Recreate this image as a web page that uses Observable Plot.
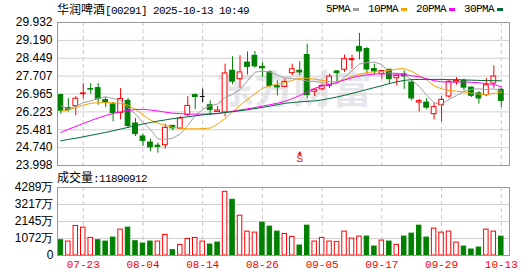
<!DOCTYPE html>
<html><head><meta charset="utf-8">
<script src="https://cdn.jsdelivr.net/npm/d3@7"></script>
<script src="https://cdn.jsdelivr.net/npm/@observablehq/plot@0.6"></script>
<style>
body{margin:0;background:#fff;}
#wrap{position:relative;width:530px;height:276px;overflow:hidden;background:#fff;}
#wrap svg{position:absolute;left:0;}
.cjk{font-family:"Noto Sans CJK SC",sans-serif;font-size:12px;}
.asc{font-family:"Liberation Mono",monospace;font-size:11px;letter-spacing:-0.6px;}
.lbl{position:absolute;white-space:nowrap;color:#000;line-height:14px;z-index:2;}
#legend{display:flex;align-items:center;}
.sw{display:inline-block;width:6px;height:3px;margin:0 9px 0 3px;}
</style></head>
<body><div id="wrap"></div>
<script>
// ---------- data ----------
const stockName = "华润啤酒";
const stockCode = "[00291]";
const stamp = "2025-10-13 10:49";
const dates = ["07-18","07-21","07-22","07-23","07-24","07-25","07-28","07-29","07-30","07-31",
  "08-01","08-04","08-05","08-06","08-07","08-08","08-11","08-12","08-13","08-14",
  "08-15","08-18","08-19","08-20","08-21","08-22","08-25","08-26","08-27","08-28",
  "08-29","09-01","09-02","09-03","09-04","09-05","09-08","09-09","09-10","09-11",
  "09-12","09-15","09-16","09-17","09-18","09-19","09-22","09-23","09-24","09-25",
  "09-26","09-29","09-30","10-02","10-03","10-06","10-08","10-09","10-10","10-13"];
const open  = [26.92,26.38,26.46,26.96,27.17,27.21,26.71,26.53,26.18,26.68,
  25.74,25.20,24.95,24.82,24.84,25.64,25.53,26.09,26.92,26.86,
  26.50,26.22,26.20,27.93,27.58,28.27,28.55,28.09,27.86,27.29,
  27.26,27.83,27.93,28.58,27.06,27.16,27.30,27.90,27.97,28.37,
  28.92,28.83,28.00,27.80,27.97,27.62,27.78,27.44,26.61,26.61,
  26.13,26.50,26.86,27.44,27.51,27.23,26.99,26.92,27.40,27.14];
const high  = [26.96,26.78,26.86,27.40,27.40,27.40,26.82,26.61,27.19,26.78,
  25.95,25.30,25.09,24.93,25.71,25.67,26.03,26.86,26.96,27.17,
  26.68,26.45,28.20,28.51,28.55,28.71,28.73,28.27,27.93,27.51,
  27.59,28.20,28.30,29.03,27.19,27.37,27.79,27.93,28.58,28.58,
  29.48,28.89,28.20,27.93,27.99,27.79,27.93,27.51,26.75,26.78,
  26.61,26.86,27.55,27.65,27.58,27.25,27.06,27.61,28.13,27.19];
const low   = [26.13,26.22,26.06,26.75,26.96,26.50,26.40,25.81,25.89,25.53,
  25.20,24.79,24.57,24.51,24.68,25.44,25.51,26.03,26.31,26.61,
  26.06,26.20,26.02,27.35,27.20,27.75,28.04,27.65,27.23,26.89,
  27.23,27.72,27.72,26.78,26.86,27.10,27.19,27.44,27.86,27.99,
  28.38,27.79,27.75,27.58,27.37,27.30,27.16,26.68,26.22,26.31,
  25.89,25.81,26.78,27.33,27.10,26.82,26.54,26.86,27.20,26.40];
const close = [26.27,26.30,26.77,26.99,27.15,26.75,26.61,26.17,26.76,25.64,
  25.30,25.02,24.75,24.77,25.56,25.54,25.95,26.47,26.84,26.86,
  26.30,26.28,27.82,27.48,27.86,28.09,28.11,28.03,27.30,27.24,
  27.47,27.99,27.86,26.92,27.14,27.30,27.69,27.83,28.41,28.41,
  28.73,27.98,27.90,27.92,27.58,27.72,27.70,26.78,26.67,26.40,
  26.42,26.72,27.47,27.51,27.23,26.89,26.78,27.33,27.69,26.68];
// volume in 万 (10k shares)
const volume = [962,879,1862,1757,1109,962,879,1130,1632,1757,
  900,753,879,879,1297,335,669,1046,1109,879,
  690,816,4017,3515,2511,1506,1444,2071,1820,1506,
  1360,1171,628,1883,879,1109,879,858,1506,1067,
  1193,1193,565,941,879,669,1193,1381,1883,1130,
  1695,1444,1506,816,565,377,502,1632,1506,1189.0912];
const ma5  = [26.47,26.35,26.45,26.60,26.68,26.78,26.85,26.78,26.70,26.39,
  26.13,25.78,25.49,25.10,25.08,25.13,25.31,25.66,26.07,26.33,
  26.48,26.55,26.82,26.95,27.15,27.51,27.87,27.91,27.88,27.75,
  27.63,27.61,27.57,27.50,27.48,27.44,27.38,27.38,27.67,27.93,
  28.21,28.27,28.29,28.19,27.83,27.83,27.78,27.54,27.28,26.92,
  26.60,26.53,26.74,26.90,27.07,27.16,27.18,27.15,27.18,27.07];
const ma10 = [26.25,26.30,26.40,26.50,26.58,26.60,26.61,26.60,26.57,26.50,
  26.33,26.10,25.88,25.75,25.66,25.58,25.55,25.52,25.52,25.53,
  25.55,25.71,25.95,26.22,26.50,26.74,26.98,27.20,27.30,27.38,
  27.43,27.53,27.62,27.62,27.58,27.53,27.48,27.47,27.56,27.70,
  27.78,27.86,27.88,27.90,27.95,28.00,28.02,27.90,27.73,27.55,
  27.30,27.18,27.11,27.08,27.05,27.00,26.96,26.93,27.00,27.02];
const ma20 = [25.37,25.50,25.62,25.74,25.86,25.97,26.07,26.16,26.23,26.28,
  26.32,26.33,26.30,26.26,26.21,26.17,26.15,26.13,26.13,26.13,
  26.14,26.15,26.20,26.25,26.30,26.35,26.40,26.46,26.52,26.58,
  26.66,26.77,26.90,27.05,27.20,27.30,27.37,27.44,27.55,27.64,
  27.71,27.76,27.79,27.80,27.80,27.79,27.78,27.72,27.68,27.60,
  27.52,27.47,27.46,27.47,27.47,27.45,27.43,27.40,27.36,27.26];
const ma30 = [25.02,25.08,25.13,25.19,25.25,25.31,25.37,25.44,25.51,25.58,
  25.65,25.72,25.78,25.84,25.89,25.94,25.98,26.02,26.06,26.10,
  26.13,26.16,26.20,26.23,26.27,26.31,26.36,26.41,26.46,26.52,
  26.58,26.61,26.64,26.66,26.68,26.72,26.78,26.84,26.91,26.99,
  27.07,27.15,27.23,27.31,27.40,27.47,27.53,27.56,27.57,27.57,
  27.57,27.57,27.56,27.56,27.55,27.54,27.53,27.52,27.52,27.51];
const maNames  = ["5PMA","10PMA","20PMA","30PMA"];
const maColors = ["#a0a0a0","#f5a300","#ff00ff","#006a36"];
const yTicks   = ["23.998","24.740","25.481","26.223","26.965","27.707","28.449","29.190","29.932"];
const volTicks = [0,1072,2145,3217,4289];
const volUnit  = "万";
const volTitle = "成交量";
const xTickDates = ["07-23","08-04","08-14","08-26","09-05","09-17","09-29","10-13"];
const signalDates = ["09-02"];
const signalText  = ["S"];
const watermark = ["东方财富"];

// ---------- build ----------
const UP = "#ff0000", DOWN = "#008000", FLAT = "#000000";
const rows = dates.map((d, i) => ({i, date: d, o: open[i], h: high[i], l: low[i], c: close[i], v: volume[i]}));
const candleColor = d => d.c > d.o ? UP : d.c < d.o ? DOWN : FLAT;
const volUp = d => d.i === 0 ? d.c > d.o : d.c >= close[d.i - 1];
const xTickIdx = xTickDates.map(d => dates.indexOf(d));
const yTickVals = yTicks.map(Number);
const xDomain = [-0.45, 60.1];
const mas = [ma5, ma10, ma20, ma30];
const signals = signalDates.map((d, k) => ({i: dates.indexOf(d), t: signalText[k]}));
const bodies = rows.filter(d => d.c !== d.o);
const dojis = rows.filter(d => d.c === d.o);
const hw = 0.32;

const main = Plot.plot({
  width: 530, height: 172,
  marginTop: 22, marginBottom: 7, marginLeft: 57, marginRight: 21,
  style: {fontFamily: "'Liberation Sans', sans-serif", fontSize: "12px", color: "#000", background: "transparent"},
  x: {type: "linear", domain: xDomain, axis: null, label: null},
  y: {domain: [yTickVals[0], yTickVals[yTickVals.length - 1]], axis: null, label: null},
  marks: [
    Plot.text(watermark, {frameAnchor: "middle", text: d => d, dx: 10, dy: -3, fontSize: 39, fontWeight: "bold", fill: "#e6e6ec", fontFamily: "'Noto Sans CJK SC'"}),
    Plot.ruleY(yTickVals.slice(1, -1), {stroke: "#d0d0d0"}),
    Plot.ruleX(xTickIdx, {stroke: "#c8c8c8", strokeDasharray: "4,3"}),
    Plot.axisY(yTickVals, {tickSize: 0, tickPadding: 5, tickFormat: d => d.toFixed(3), fontSize: 12, color: "#000", label: null}),
    Plot.ruleX(rows, {x: "i", y1: "l", y2: "h", stroke: candleColor}),
    Plot.rect(bodies, {x1: d => d.i - hw, x2: d => d.i + hw, y1: d => Math.min(d.o, d.c), y2: d => Math.max(d.o, d.c),
      fill: d => d.c > d.o ? "#ffffff" : DOWN, stroke: candleColor, strokeWidth: 1}),
    Plot.ruleY(dojis, {y: "c", x1: d => d.i - hw, x2: d => d.i + hw, stroke: FLAT}),
    ...mas.map((m, k) => Plot.line(rows, {x: "i", y: d => m[d.i], stroke: maColors[k], strokeWidth: 1, clip: true})),
    Plot.text(signals, {x: "i", frameAnchor: "bottom", text: "t", dy: -4, fill: UP, fontSize: 11, fontFamily: "'Liberation Mono'"}),
    Plot.dot(signals, {x: "i", frameAnchor: "bottom", dy: -12, symbol: "triangle", r: 1.6, fill: UP, stroke: "none"}),
    Plot.frame({stroke: "#999"})
  ]
});
main.style.top = "0px";

const vol = Plot.plot({
  width: 530, height: 104,
  marginTop: 15, marginBottom: 21, marginLeft: 57, marginRight: 21,
  style: {fontFamily: "'Liberation Sans', sans-serif", fontSize: "12px", color: "#000", background: "transparent"},
  x: {type: "linear", domain: xDomain, axis: null, label: null},
  y: {domain: [0, volTicks[volTicks.length - 1]], axis: null, label: null},
  marks: [
    Plot.ruleY(volTicks.slice(1, -1), {stroke: "#d0d0d0"}),
    Plot.ruleX(xTickIdx, {stroke: "#c8c8c8", strokeDasharray: "4,3"}),
    Plot.axisY(volTicks, {tickSize: 0, tickPadding: 4, tickFormat: d => d === 0 ? "0" : d + volUnit, fontSize: 12, color: "#000", label: null}),
    Plot.axisX(xTickIdx, {tickSize: 0, tickPadding: 5, tickFormat: i => dates[i], color: UP, fontSize: 11, fontFamily: "'Liberation Mono'", label: null}),
    Plot.rect(rows, {x1: d => d.i - 0.3, x2: d => d.i + 0.3, y1: () => 0, y2: "v",
      fill: d => volUp(d) ? "#ffffff" : DOWN, stroke: d => volUp(d) ? UP : DOWN, strokeWidth: 1}),
    Plot.frame({stroke: "#999"})
  ]
});
vol.style.top = "172px";

const wrap = document.getElementById("wrap");
wrap.appendChild(main);
wrap.appendChild(vol);

const title = document.createElement("div");
title.className = "lbl";
title.style.left = "57px"; title.style.top = "2px";
title.innerHTML = `<span class="cjk">${stockName}</span><span class="asc">${stockCode} ${stamp}</span>`;
wrap.appendChild(title);

const legend = document.createElement("div");
legend.className = "lbl"; legend.id = "legend";
legend.style.left = "326px"; legend.style.top = "2px";
legend.innerHTML = maNames.map((n, k) => `<span class="asc">${n}</span><span class="sw" style="background:${maColors[k]}"></span>`).join("");
wrap.appendChild(legend);

const vlabel = document.createElement("div");
vlabel.className = "lbl";
vlabel.style.left = "57px"; vlabel.style.top = "170px";
vlabel.innerHTML = `<span class="cjk">${volTitle}</span><span class="asc">:${Math.round(volume[volume.length - 1] * 10000)}</span>`;
wrap.appendChild(vlabel);
</script></body></html>
